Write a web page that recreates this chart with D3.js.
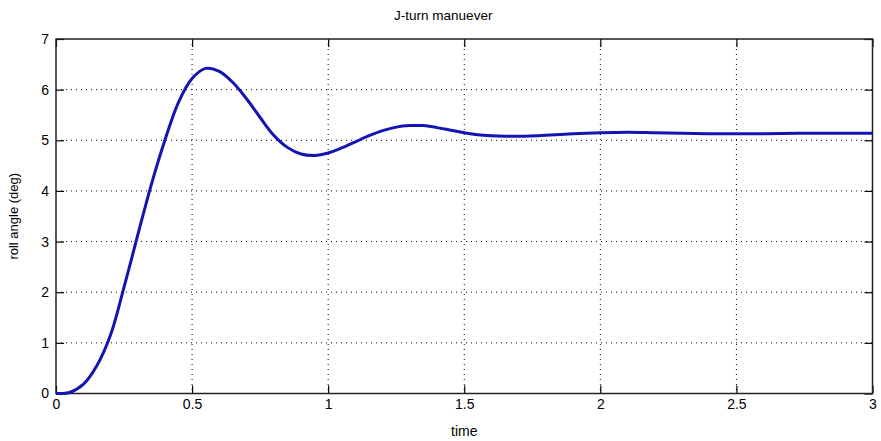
<!DOCTYPE html>
<html><head><meta charset="utf-8">
<script src="https://cdn.jsdelivr.net/npm/d3@7"></script>
<style>body{margin:0;background:#fff}svg{display:block}text{font-family:"Liberation Sans",Arial,sans-serif;fill:#000}</style>
</head><body><svg id="c" width="881" height="441"></svg>
<script>
const titleText = "J-turn manuever";
const xLabel = "time";
const yLabel = "roll angle (deg)";
const xTicks = [0, 0.5, 1, 1.5, 2, 2.5, 3];
const yTicks = [0, 1, 2, 3, 4, 5, 6, 7];
const time = [0,0.02,0.05,0.1,0.15,0.2,0.25,0.3,0.35,0.4,0.45,0.5,0.55,0.6,0.65,0.7,0.75,0.8,0.85,0.9,0.95,1.0,1.05,1.1,1.15,1.2,1.25,1.3,1.35,1.4,1.45,1.5,1.55,1.6,1.65,1.7,1.8,1.9,2.0,2.1,2.2,2.3,2.4,2.5,2.6,2.8,3.0];
const roll = [0,0,0.02,0.18,0.55,1.15,2.1,3.12,4.12,5.0,5.75,6.22,6.42,6.36,6.14,5.82,5.45,5.10,4.86,4.73,4.70,4.75,4.85,4.97,5.09,5.19,5.26,5.29,5.29,5.25,5.20,5.15,5.11,5.09,5.08,5.08,5.10,5.13,5.15,5.16,5.15,5.14,5.13,5.13,5.13,5.14,5.14];

const svg = d3.select("#c");
const L = 56, R = 872.5, T = 39, B = 393.5;
const x = d3.scaleLinear().domain([0, 3]).range([L, R]);
const y = d3.scaleLinear().domain([0, 7]).range([B, T]);
const fmt = d3.format("~g");

// grid
const g = svg.append("g");
g.selectAll(".gx").data(xTicks.slice(1, -1)).enter().append("line")
  .attr("x1", d => x(d)).attr("x2", d => x(d)).attr("y1", T).attr("y2", B)
  .attr("stroke", "#000").attr("stroke-width", 1).attr("stroke-dasharray", "1,4");
g.selectAll(".gy").data(yTicks.slice(1, -1)).enter().append("line")
  .attr("y1", d => y(d)).attr("y2", d => y(d)).attr("x1", L).attr("x2", R)
  .attr("stroke", "#000").attr("stroke-width", 1).attr("stroke-dasharray", "1,4");

// axes with inward ticks
const tl = 8;
svg.append("g").attr("transform", `translate(0,${B})`)
  .call(d3.axisBottom(x).tickValues(xTicks).tickFormat(fmt).tickSizeInner(-tl).tickSizeOuter(0).tickPadding(6))
  .call(s => s.select(".domain").remove());
svg.append("g").attr("transform", `translate(0,${T})`)
  .call(d3.axisTop(x).tickValues(xTicks).tickFormat("").tickSizeInner(-tl).tickSizeOuter(0))
  .call(s => s.select(".domain").remove());
svg.append("g").attr("transform", `translate(${L},0)`)
  .call(d3.axisLeft(y).tickValues(yTicks).tickFormat(fmt).tickSizeInner(-tl).tickSizeOuter(0).tickPadding(7))
  .call(s => s.select(".domain").remove());
svg.append("g").attr("transform", `translate(${R},0)`)
  .call(d3.axisRight(y).tickValues(yTicks).tickFormat("").tickSizeInner(-tl).tickSizeOuter(0))
  .call(s => s.select(".domain").remove());
svg.selectAll(".tick text").attr("font-size", 14).attr("font-family", "Liberation Sans, Arial, sans-serif").attr("fill", "#000");
svg.selectAll(".tick line").attr("stroke", "#000").attr("stroke-width", 1.2);

// frame
svg.append("rect").attr("x", L).attr("y", T).attr("width", R - L).attr("height", B - T)
  .attr("fill", "none").attr("stroke", "#222").attr("stroke-width", 1.5);

// line
const data = time.map((t, i) => ({t, v: roll[i]}));
svg.append("path").datum(data)
  .attr("fill", "none").attr("stroke", "#1414b4").attr("stroke-width", 3)
  .attr("d", d3.line().x(d => x(d.t)).y(d => y(d.v)).curve(d3.curveCatmullRom.alpha(0.5)));

// labels
svg.append("text").attr("x", (L + R) / 2 - 21).attr("y", 20).attr("text-anchor", "middle").attr("font-size", 13.5).text(titleText);
svg.append("text").attr("x", (L + R) / 2).attr("y", 436).attr("text-anchor", "middle").attr("font-size", 14).text(xLabel);
svg.append("text").attr("transform", `translate(18,${(T + B) / 2}) rotate(-90)`).attr("text-anchor", "middle").attr("font-size", 13).text(yLabel);
</script></body></html>
